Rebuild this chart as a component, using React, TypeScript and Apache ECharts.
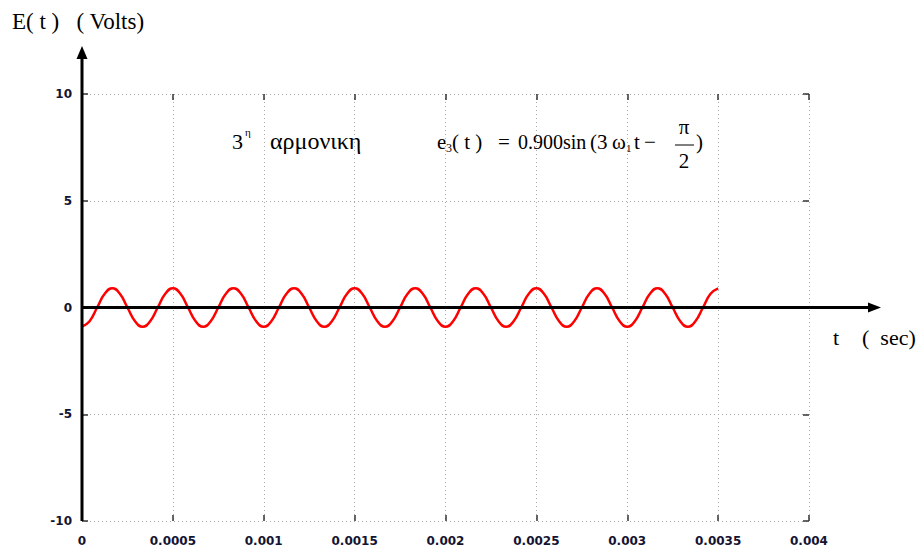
import React, { useEffect, useRef } from "react";
import * as echarts from "echarts";

// time samples (s) and read voltages (V)
const tSec = [
  0, 0.0000417, 0.0000833, 0.000125, 0.0001667, 0.0002083, 0.00025, 0.0002917,
  0.0003333, 0.000375, 0.0004167, 0.0004583, 0.0005, 0.0005417, 0.0005833, 0.000625,
  0.0006667, 0.0007083, 0.00075, 0.0007917, 0.0008333, 0.000875, 0.0009167, 0.0009583,
  0.001, 0.0010417, 0.0010833, 0.001125, 0.0011667, 0.0012083, 0.00125, 0.0012917,
  0.0013333, 0.001375, 0.0014167, 0.0014583, 0.0015, 0.0015417, 0.0015833, 0.001625,
  0.0016667, 0.0017083, 0.00175, 0.0017917, 0.0018333, 0.001875, 0.0019167, 0.0019583,
  0.002, 0.0020417, 0.0020833, 0.002125, 0.0021667, 0.0022083, 0.00225, 0.0022917,
  0.0023333, 0.002375, 0.0024167, 0.0024583, 0.0025, 0.0025417, 0.0025833, 0.002625,
  0.0026667, 0.0027083, 0.00275, 0.0027917, 0.0028333, 0.002875, 0.0029167, 0.0029583,
  0.003, 0.0030417, 0.0030833, 0.003125, 0.0031667, 0.0032083, 0.00325, 0.0032917,
  0.0033333, 0.003375, 0.0034167, 0.0034583, 0.0035,
];
const eVolts = [
  -0.9, -0.64, 0, 0.64, 0.9, 0.64, 0, -0.64,
  -0.9, -0.64, 0, 0.64, 0.9, 0.64, 0, -0.64,
  -0.9, -0.64, 0, 0.64, 0.9, 0.64, 0, -0.64,
  -0.9, -0.64, 0, 0.64, 0.9, 0.64, 0, -0.64,
  -0.9, -0.64, 0, 0.64, 0.9, 0.64, 0, -0.64,
  -0.9, -0.64, 0, 0.64, 0.9, 0.64, 0, -0.64,
  -0.9, -0.64, 0, 0.64, 0.9, 0.64, 0, -0.64,
  -0.9, -0.64, 0, 0.64, 0.9, 0.64, 0, -0.64,
  -0.9, -0.64, 0, 0.64, 0.9, 0.64, 0, -0.64,
  -0.9, -0.64, 0, 0.64, 0.9, 0.64, 0, -0.64,
  -0.9, -0.64, 0, 0.64, 0.9,
];
const xTicks = { min: 0, max: 0.004, interval: 0.0005 };
const yTicks = { min: -10, max: 10, interval: 5 };

const SERIF = "'Liberation Serif', 'DejaVu Serif', serif";
const LABEL_FONT = "'DejaVu Sans', Verdana, sans-serif";

export default function App() {
  const ref = useRef<HTMLDivElement>(null);
  useEffect(() => {
    document.body.style.margin = "0";
    const chart = echarts.init(ref.current!, null, { renderer: "svg" });
    const tick = { show: true, inside: true, length: 6, lineStyle: { color: "#333", width: 1.5 } };
    const noLine = { show: false, onZero: false };
    const grid = { show: true, lineStyle: { color: "#a8a8a8", width: 1, type: [1, 3] as any } };
    const lbl = { fontFamily: LABEL_FONT, fontSize: 12, fontWeight: "bold" as const, color: "#141432" };
    const fmt = (v: number) => String(parseFloat(v.toPrecision(6)));
    const txt = (text: string, x: number, y: number, size: number, extra: any = {}) => ({
      type: "text",
      x,
      y,
      style: { text, font: `${size}px ${SERIF}`, fill: "#000", verticalAlign: "middle", ...extra },
    });
    chart.setOption({
      animation: false,
      grid: { left: 82, right: 115, top: 94, bottom: 32 },
      xAxis: [
        {
          type: "value", ...xTicks, position: "bottom",
          axisLine: noLine, axisTick: tick, splitLine: grid,
          axisLabel: { ...lbl, margin: 14, formatter: fmt },
        },
        {
          type: "value", ...xTicks, position: "top",
          axisLine: noLine, axisTick: tick, splitLine: { show: false },
          axisLabel: { show: false },
        },
      ],
      yAxis: [
        {
          type: "value", ...yTicks, position: "left",
          axisLine: noLine, axisTick: tick, splitLine: grid,
          axisLabel: { ...lbl, margin: 10 },
        },
        {
          type: "value", ...yTicks, position: "right",
          axisLine: noLine, axisTick: tick, splitLine: { show: false },
          axisLabel: { show: false },
        },
      ],
      series: [
        {
          type: "line",
          data: tSec.map((t, i) => [t, eVolts[i]]),
          smooth: true,
          symbol: "none",
          lineStyle: { color: "#ff0000", width: 2.5 },
          z: 3,
        },
      ],
      graphic: [
        { type: "line", shape: { x1: 82, y1: 521, x2: 82, y2: 56 }, style: { stroke: "#000", lineWidth: 3 }, z: 10 },
        { type: "polygon", shape: { points: [[82, 46], [76.5, 59], [87.5, 59]] }, style: { fill: "#000" }, z: 10 },
        { type: "line", shape: { x1: 82, y1: 307.5, x2: 870, y2: 307.5 }, style: { stroke: "#000", lineWidth: 3 }, z: 10 },
        { type: "polygon", shape: { points: [[881, 307.5], [868, 302.5], [868, 312.5]] }, style: { fill: "#000" }, z: 10 },
        txt("E( t )   ( Volts)", 12, 21, 23),
        txt("t", 833, 337, 22),
        txt("(  sec)", 862, 337, 22),
        txt("3", 232, 141, 22),
        txt("η", 245, 132, 11),
        txt("αρμονικη", 270, 141, 24),
        txt("e", 437, 142, 21),
        txt("3", 446, 148, 12),
        txt("( t )", 452, 142, 21),
        txt("=", 498, 142, 21),
        txt("0.900sin", 518, 142, 20),
        txt("(3", 590, 142, 21),
        txt("ω", 612, 142, 21),
        txt("1", 626, 148, 11),
        txt("t", 634, 142, 21),
        txt("−", 644, 142, 21),
        txt("π", 684, 127, 21, { align: "center" }),
        { type: "line", shape: { x1: 675, y1: 145, x2: 694, y2: 145 }, style: { stroke: "#000", lineWidth: 1 } },
        txt("2", 684, 161, 21, { align: "center" }),
        txt(")", 696, 142, 21),
      ],
    });
    return () => chart.dispose();
  }, []);
  return <div ref={ref} style={{ width: 924, height: 553 }} />;
}
